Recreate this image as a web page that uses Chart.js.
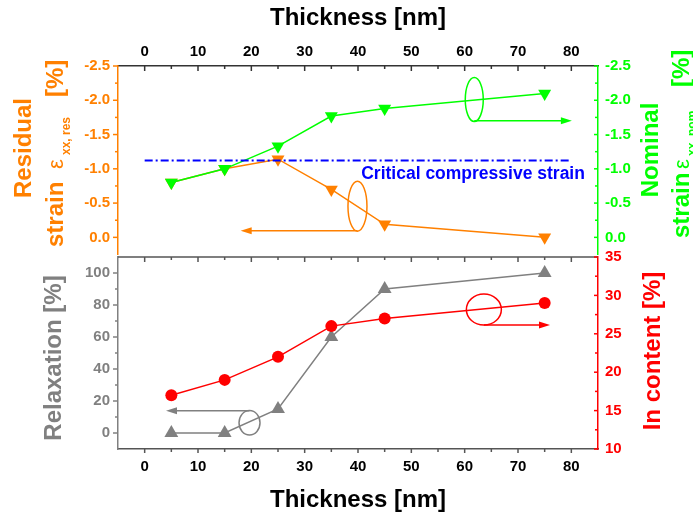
<!DOCTYPE html>
<html><head><meta charset="utf-8">
<script src="https://cdn.jsdelivr.net/npm/chart.js@4/dist/chart.umd.min.js"></script>
<style>
html,body{margin:0;padding:0;background:#fff;overflow:hidden;width:693px;height:518px}
#c1{position:absolute;left:0;top:0}
#c2{position:absolute;left:0;top:245px}
</style></head>
<body>
<canvas id="c2" width="693" height="273"></canvas>
<canvas id="c1" width="693" height="262"></canvas>
<script>
// ---- data ----
const thickness = [5, 15, 25, 35, 45, 75];
const residualStrain = [-0.8, -1.0, -1.14, -0.7, -0.19, 0.0];
const nominalStrain = [-0.8, -1.0, -1.33, -1.77, -1.88, -2.1];
const criticalStrain = -1.12;
const criticalRange = [0, 80];
const criticalLabel = 'Critical compressive strain';
const relaxation = [0, 0, 15, 60, 90, 100];
const inContent = [17, 19, 22, 26, 27, 29];
const thicknessTicks = [0, 10, 20, 30, 40, 50, 60, 70, 80];
const strainTicks = [-2.5, -2.0, -1.5, -1.0, -0.5, 0.0];
const relaxationTicks = [0, 20, 40, 60, 80, 100];
const inContentTicks = [10, 15, 20, 25, 30, 35];

// ---- styles ----
const FONT = "'Liberation Sans', Arial, sans-serif";
const ORANGE = '#ff8000', GREEN = '#00ff00', GRAY = '#808080', RED = '#ff0000', BLUE = '#0000ff';
const B24 = `bold 24px ${FONT}`, R22 = `22px ${FONT}`, B12 = `bold 12px ${FONT}`;
const tickFont = {family: FONT, size: 15, weight: 'bold'};
const titleFont = {family: FONT, size: 24, weight: 'bold'};
const pts = ys => thickness.map((x, i) => ({x, y: ys[i]}));
const setTicks = arr => (s => { s.ticks = arr.map(v => ({value: v})); });
const fitW = w => (s => { s.width = w; s.paddingTop = 0; s.paddingBottom = 0; });
const fitH = h => (s => { s.height = h; s.paddingLeft = 0; s.paddingRight = 0; });
const OFF2 = 245;

const tickMarks = {
  id: 'tickMarks',
  afterDraw(chart, args, o) {
    const ctx = chart.ctx, ca = chart.chartArea;
    (o.specs || []).forEach(s => {
      const sc = chart.scales[s.id];
      const vals = sc.ticks.map(t => t.value);
      const step = vals[1] - vals[0];
      const lo = Math.min(sc.min, sc.max), hi = Math.max(sc.min, sc.max);
      const minors = [];
      for (let i = 0; i < vals.length - 1; i++) minors.push((vals[i] + vals[i + 1]) / 2);
      [vals[0] - step / 2, vals[vals.length - 1] + step / 2].forEach(v => { if (v > lo + 1e-9 && v < hi - 1e-9) minors.push(v); });
      const inward = {top: 1, bottom: -1, left: 1, right: -1}[s.edge];
      const d = s.dir === 'in' ? inward : -inward;
      const base = {top: ca.top, bottom: ca.bottom, left: ca.left, right: ca.right}[s.edge];
      ctx.save();
      ctx.strokeStyle = s.color; ctx.lineWidth = 1.5;
      if (s.line) {
        ctx.beginPath(); ctx.moveTo(ca.left, base); ctx.lineTo(ca.right, base); ctx.stroke();
      }
      const draw = (v, len) => {
        const p = sc.getPixelForValue(v);
        ctx.beginPath();
        if (s.edge === 'top' || s.edge === 'bottom') { ctx.moveTo(p, base); ctx.lineTo(p, base + d * len); }
        else { ctx.moveTo(base, p); ctx.lineTo(base + d * len, p); }
        ctx.stroke();
      };
      vals.forEach(v => draw(v, s.major));
      minors.forEach(v => draw(v, s.minor));
      ctx.restore();
    });
  }
};

const annot = {
  id: 'annot',
  afterDatasetsDraw(chart, args, o) {
    const ctx = chart.ctx, xs = chart.scales.x;
    (o.items || []).forEach(a => {
      const ys = chart.scales[a.yAxis];
      const cx = xs.getPixelForValue(a.x), cy = ys.getPixelForValue(a.y);
      ctx.save();
      ctx.strokeStyle = a.color; ctx.fillStyle = a.color; ctx.lineWidth = 1.5;
      ctx.beginPath(); ctx.ellipse(cx, cy, a.rx, a.ry, 0, 0, 2 * Math.PI); ctx.stroke();
      const ay = ys.getPixelForValue(a.arrowY), x1 = xs.getPixelForValue(a.arrowToX);
      const dir = x1 > cx ? 1 : -1;
      ctx.beginPath(); ctx.moveTo(cx, ay); ctx.lineTo(x1 - dir * 8, ay); ctx.stroke();
      ctx.beginPath(); ctx.moveTo(x1, ay); ctx.lineTo(x1 - dir * 11, ay - 3.5); ctx.lineTo(x1 - dir * 11, ay + 3.5); ctx.closePath(); ctx.fill();
      ctx.restore();
    });
    (o.texts || []).forEach(t => {
      const ys = chart.scales[t.yAxis];
      ctx.save();
      ctx.font = t.font; ctx.fillStyle = t.color; ctx.textBaseline = 'middle'; ctx.textAlign = 'left';
      ctx.fillText(t.text, xs.getPixelForValue(t.x), ys.getPixelForValue(t.y));
      ctx.restore();
    });
  }
};

const titles = {
  id: 'titles',
  afterDraw(chart, args, o) {
    const ctx = chart.ctx;
    (o.items || []).forEach(t => {
      ctx.save();
      ctx.translate(t.x, t.y); ctx.rotate(-Math.PI / 2);
      ctx.textBaseline = 'alphabetic'; ctx.textAlign = t.align || 'left';
      ctx.fillStyle = t.color;
      t.segs.forEach(s => { ctx.font = s.font; ctx.fillText(s.text, s.u || 0, s.v || 0); });
      ctx.restore();
    });
  }
};

const noGrid = {display: false, drawTicks: false, drawOnChartArea: false};

// ---- top panel ----
new Chart(document.getElementById('c1'), {
  type: 'line',
  data: {datasets: [
    {label: criticalLabel, data: criticalRange.map(x => ({x, y: criticalStrain})), yAxisID: 'yRes',
     borderColor: BLUE, borderWidth: 2, borderDash: [8, 3, 2, 3], pointRadius: 0},
    {label: 'Nominal strain', data: pts(nominalStrain), yAxisID: 'yNom', borderColor: GREEN, backgroundColor: GREEN,
     borderWidth: 1.5, pointStyle: 'triangle', rotation: 180, pointRadius: 7.5, pointBorderWidth: 0},
    {label: 'Residual strain', data: pts(residualStrain), yAxisID: 'yRes', borderColor: ORANGE, backgroundColor: ORANGE,
     borderWidth: 1.5, pointStyle: 'triangle', rotation: 180, pointRadius: 7.5, pointBorderWidth: 0}
  ]},
  options: {
    responsive: false, animation: false, devicePixelRatio: 1,
    layout: {padding: {top: 0, bottom: 5, left: 0, right: 0}},
    plugins: {
      legend: {display: false}, tooltip: {enabled: false},
      tickMarks: {specs: [
        {id: 'x', edge: 'top', dir: 'in', major: 5, minor: 3, color: '#333'},
        {id: 'yRes', edge: 'left', dir: 'out', major: 5, minor: 3, color: ORANGE},
        {id: 'yNom', edge: 'right', dir: 'in', major: 4, minor: 3, color: GREEN}
      ]},
      annot: {
        items: [
          {x: 61.8, y: -2.01, rx: 9, ry: 22, yAxis: 'yNom', arrowY: -1.7, arrowToX: 80.1, color: GREEN},
          {x: 39.9, y: -0.455, rx: 9.5, ry: 25, yAxis: 'yRes', arrowY: -0.095, arrowToX: 18, color: ORANGE}
        ],
        texts: [{text: criticalLabel, x: 40.6, y: -0.92, yAxis: 'yRes', color: BLUE, font: `bold 17.5px ${FONT}`}]
      },
      titles: {items: [
        {x: 31, y: 148, color: ORANGE, align: 'center', segs: [{text: 'Residual', font: B24}]},
        {x: 63, y: 247, color: ORANGE, segs: [
          {text: 'strain', font: B24}, {text: 'ε', font: R22, u: 78},
          {text: 'xx, res', font: B12, u: 92, v: 7}, {text: '[%]', font: B24, u: 150}]},
        {x: 658, y: 150, color: GREEN, align: 'center', segs: [{text: 'Nominal', font: B24}]},
        {x: 689, y: 238, color: GREEN, segs: [
          {text: 'strain', font: B24}, {text: 'ε', font: R22, u: 69},
          {text: 'xx, nom', font: B12, u: 82, v: 7}, {text: '[%]', font: B24, u: 151}]}
      ]}
    },
    scales: {
      x: {type: 'linear', position: 'top', min: -5, max: 85,
          afterBuildTicks: setTicks(thicknessTicks),
          ticks: {color: '#000', font: tickFont, padding: 5, maxRotation: 0, autoSkip: false},
          grid: noGrid, border: {display: true, color: '#333', width: 1.5},
          title: {display: true, text: 'Thickness [nm]', color: '#000', font: titleFont, padding: {top: 4, bottom: 0}},
          afterFit: fitH(66)},
      yRes: {type: 'linear', position: 'left', reverse: true, min: -2.5, max: 0.25,
          afterBuildTicks: setTicks(strainTicks),
          ticks: {color: ORANGE, font: tickFont, padding: 8, autoSkip: false, callback: v => v.toFixed(1)},
          grid: noGrid, border: {display: true, color: ORANGE, width: 1.5},
          afterFit: fitW(118)},
      yNom: {type: 'linear', position: 'right', reverse: true, min: -2.5, max: 0.25,
          afterBuildTicks: setTicks(strainTicks),
          ticks: {color: GREEN, font: tickFont, padding: 7, autoSkip: false, callback: v => v.toFixed(1)},
          grid: noGrid, border: {display: true, color: GREEN, width: 1.5},
          afterFit: fitW(95)}
    }
  },
  plugins: [tickMarks, annot, titles]
});

// ---- bottom panel ----
new Chart(document.getElementById('c2'), {
  type: 'line',
  data: {datasets: [
    {label: 'In content', data: pts(inContent), yAxisID: 'yIn', borderColor: RED, backgroundColor: RED,
     borderWidth: 1.5, pointStyle: 'circle', pointRadius: 6, pointBorderWidth: 0},
    {label: 'Relaxation', data: pts(relaxation), yAxisID: 'yRel', borderColor: GRAY, backgroundColor: GRAY,
     borderWidth: 1.5, pointStyle: 'triangle', pointRadius: 8, pointBorderWidth: 0}
  ]},
  options: {
    responsive: false, animation: false, devicePixelRatio: 1,
    layout: {padding: {top: 12, bottom: 0, left: 0, right: 0}},
    plugins: {
      legend: {display: false}, tooltip: {enabled: false},
      tickMarks: {specs: [
        {id: 'x', edge: 'top', dir: 'in', major: 5, minor: 3, color: '#555', line: true},
        {id: 'x', edge: 'bottom', dir: 'out', major: 4, minor: 3, color: '#555'},
        {id: 'yRel', edge: 'left', dir: 'out', major: 5, minor: 3, color: GRAY},
        {id: 'yIn', edge: 'right', dir: 'in', major: 4, minor: 3, color: RED}
      ]},
      annot: {items: [
        {x: 63.6, y: 28.16, rx: 17.5, ry: 15.5, yAxis: 'yIn', arrowY: 26.15, arrowToX: 76, color: RED},
        {x: 19.66, y: 6.4, rx: 10.5, ry: 12.2, yAxis: 'yRel', arrowY: 13.9, arrowToX: 4, color: GRAY}
      ]},
      titles: {items: [
        {x: 61, y: 358 - OFF2, color: GRAY, align: 'center', segs: [{text: 'Relaxation [%]', font: B24}]},
        {x: 660, y: 351 - OFF2, color: RED, align: 'center', segs: [{text: 'In content [%]', font: B24}]}
      ]}
    },
    scales: {
      x: {type: 'linear', position: 'bottom', min: -5, max: 85,
          afterBuildTicks: setTicks(thicknessTicks),
          ticks: {color: '#000', font: tickFont, padding: 9, maxRotation: 0, autoSkip: false},
          grid: noGrid, border: {display: true, color: '#555', width: 1.5},
          title: {display: true, text: 'Thickness [nm]', color: '#000', font: titleFont, padding: {top: 0, bottom: 3}},
          afterFit: fitH(69)},
      yRel: {type: 'linear', position: 'left', min: -10, max: 110,
          afterBuildTicks: setTicks(relaxationTicks),
          ticks: {color: GRAY, font: tickFont, padding: 8, autoSkip: false},
          grid: noGrid, border: {display: true, color: GRAY, width: 1.5},
          afterFit: fitW(118)},
      yIn: {type: 'linear', position: 'right', min: 10, max: 35,
          afterBuildTicks: setTicks(inContentTicks),
          ticks: {color: RED, font: tickFont, padding: 7, autoSkip: false},
          grid: noGrid, border: {display: true, color: RED, width: 1.5},
          afterFit: fitW(95)}
    }
  },
  plugins: [tickMarks, annot, titles]
});
</script>
</body></html>
